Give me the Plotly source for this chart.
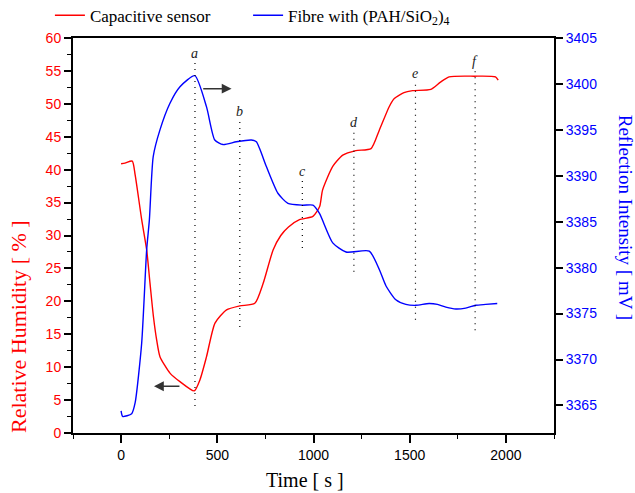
import plotly.graph_objects as go

# Capacitive sensor (relative humidity, left axis)
rh_time = [0, 20, 58, 73, 107, 133, 150, 168, 185, 202, 254, 306, 380, 410, 444, 488, 548, 617,
           695, 738, 790, 830, 870, 927, 997, 1032, 1047, 1100, 1152, 1220, 1299, 1342, 1394,
           1420, 1470, 1515, 1610, 1660, 1705, 1834, 1946, 1960]
rh_values = [40.9, 41.0, 41.3, 39.2, 32.4, 27.8, 22.8, 17.7, 14.1, 11.6, 9.1, 7.8, 6.4, 8.1, 11.6,
             16.7, 18.7, 19.3, 19.7, 22.7, 27.8, 30.0, 31.3, 32.4, 32.9, 34.4, 36.9, 40.5, 42.2,
             42.9, 43.2, 46.0, 49.6, 50.8, 51.7, 52.0, 52.2, 53.3, 54.1, 54.2, 54.1, 53.6]

# Fibre with (PAH/SiO2)4 (reflection intensity, right axis)
fib_time = [0, 8, 55, 73, 107, 133, 147, 167, 202, 254, 306, 383, 444, 487, 530, 599, 677, 703,
            755, 815, 867, 945, 997, 1031, 1100, 1169, 1290, 1342, 1377, 1428, 1480, 1532, 1601,
            1644, 1688, 1740, 1791, 1843, 1895, 1955]
fib_values = [3364.4, 3363.8, 3364.1, 3365.3, 3371.8, 3382.0, 3385.2, 3392.1, 3395.0, 3397.9,
              3399.7, 3400.9, 3397.5, 3393.9, 3393.4, 3393.7, 3393.9, 3393.7, 3391.0, 3388.1,
              3387.0, 3386.8, 3386.8, 3385.9, 3382.7, 3381.7, 3381.8, 3379.8, 3378.0, 3376.5,
              3376.0, 3375.9, 3376.1, 3376.0, 3375.7, 3375.5, 3375.6, 3375.9, 3376.0, 3376.1]

# Marker lines a-f: time, top, bottom (left-axis units), label height
mark_labels = ["a", "b", "c", "d", "e", "f"]
mark_time = [384, 617, 942, 1210, 1530, 1840]
mark_top = [56.4, 47.5, 38.4, 45.7, 53.2, 55.1]
mark_bottom = [4.1, 16.1, 28.1, 24.5, 17.2, 15.6]
mark_label_y = [57.6, 48.8, 39.7, 47.2, 54.6, 56.5]

SERIF = "Liberation Serif"
SANS = "Liberation Sans"

fig = go.Figure()
fig.add_trace(go.Scatter(x=rh_time, y=rh_values, mode="lines", name="Capacitive sensor",
                         line=dict(color="#ff0000", width=1.4, shape="spline", smoothing=0.6),
                         legend="legend"))
fig.add_trace(go.Scatter(x=fib_time, y=fib_values, mode="lines",
                         name="Fibre with (PAH/SiO<sub>2</sub>)<sub>4</sub>",
                         line=dict(color="#0000ff", width=1.4, shape="spline", smoothing=0.6),
                         yaxis="y2", legend="legend2"))

shapes = []
annotations = []
for lab, t, top, bot, ly in zip(mark_labels, mark_time, mark_top, mark_bottom, mark_label_y):
    shapes.append(dict(type="line", xref="x", yref="y", x0=t, x1=t, y0=bot, y1=top,
                       line=dict(color="black", width=1.2, dash="1px,5px")))
    annotations.append(dict(x=t, y=ly, xref="x", yref="y", text="<i>" + lab + "</i>",
                            showarrow=False, font=dict(family=SERIF, size=14, color="#222"),
                            yanchor="middle"))

# arrows
annotations.append(dict(x=574, y=52.3, ax=419, ay=52.3, xref="x", yref="y", axref="x", ayref="y",
                        showarrow=True, arrowhead=2, arrowsize=1.4, arrowwidth=1.4,
                        arrowcolor="#333", text=""))
annotations.append(dict(x=171, y=7.1, ax=311, ay=7.1, xref="x", yref="y", axref="x", ayref="y",
                        showarrow=True, arrowhead=2, arrowsize=1.4, arrowwidth=1.4,
                        arrowcolor="#333", text=""))

# axis titles
annotations.append(dict(x=0.4817, y=-0.119, xref="paper", yref="paper", text="Time [ s ]",
                        showarrow=False, font=dict(family=SERIF, size=20, color="black"),
                        yanchor="middle"))
annotations.append(dict(x=-0.113, y=0.27, xref="paper", yref="paper",
                        text="Relative Humidity [ % ]", textangle=-90, showarrow=False,
                        font=dict(family=SERIF, size=22, color="#ff0000"), xanchor="center",
                        yanchor="middle"))
annotations.append(dict(x=1.148, y=0.547, xref="paper", yref="paper",
                        text="Reflection Intensity [ mV ]", textangle=90, showarrow=False,
                        font=dict(family=SERIF, size=19, color="#0000ff"), xanchor="center",
                        yanchor="middle"))

legend_style = dict(orientation="h", xanchor="left", yanchor="top", y=1.102,
                    font=dict(family=SERIF, size=17, color="black"),
                    bgcolor="rgba(0,0,0,0)", itemwidth=30)

fig.update_layout(
    width=635, height=493,
    margin=dict(l=73, r=81, t=38, b=60, autoexpand=False),
    paper_bgcolor="white", plot_bgcolor="white",
    showlegend=True,
    legend=dict(x=-0.048, **legend_style),
    legend2=dict(x=0.364, **legend_style),
    xaxis=dict(range=[-250, 2250], tickvals=[0, 500, 1000, 1500, 2000], showgrid=False,
               zeroline=False, showline=True, linecolor="black", linewidth=2, mirror=True,
               ticks="outside", ticklen=8, tickwidth=1.5, tickcolor="black",
               minor=dict(dtick=250, tick0=0, ticks="outside", ticklen=4, tickcolor="black",
                          tickwidth=1),
               tickfont=dict(family=SANS, size=14, color="black")),
    yaxis=dict(range=[0, 60], dtick=5, showgrid=False, zeroline=False, showline=True,
               linecolor="black", linewidth=2, ticks="outside", ticklen=7, tickwidth=1.5,
               tickcolor="black",
               minor=dict(dtick=2.5, ticks="outside", ticklen=4, tickcolor="black", tickwidth=1),
               tickfont=dict(family=SANS, size=14, color="#ff0000")),
    yaxis2=dict(range=[3362, 3405], dtick=5, tick0=3365, overlaying="y", side="right",
                showgrid=False, zeroline=False, showline=True, linecolor="black", linewidth=2,
                ticks="outside", ticklen=7, tickwidth=1.5, tickcolor="black",
                tickfont=dict(family=SANS, size=14, color="#0000ff")),
    shapes=shapes,
    annotations=annotations,
)

fig.write_html("out.html", config={"displayModeBar": False},
               post_script="document.body.style.margin='0';document.body.style.overflow='hidden';")
